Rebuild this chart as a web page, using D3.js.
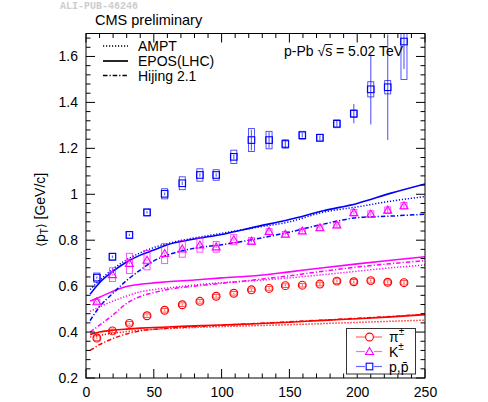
<!DOCTYPE html>
<html>
<head>
<meta charset="utf-8">
<script src="https://cdn.jsdelivr.net/npm/d3@7"></script>
<style>
  html, body { margin: 0; padding: 0; background: #fff; }
  svg { display: block; font-family: "Liberation Sans", Arial, Helvetica, sans-serif; }
</style>
</head>
<body>
<svg id="chart" width="488" height="402"></svg>
<script>
// Multiplicity bins (N_trk) and mean pT values per species
const mult = [8, 19.5, 32, 45, 58, 71, 84, 96, 109, 122, 135, 147, 159.5, 172.5, 185, 197.5, 210, 222.5, 234.5];

const piMean = [0.374, 0.405, 0.438, 0.471, 0.495, 0.519, 0.534, 0.556, 0.569, 0.584, 0.590, 0.602, 0.604, 0.609, 0.622, 0.619, 0.624, 0.617, 0.615];
const piStat = [0.003, 0.003, 0.003, 0.003, 0.003, 0.003, 0.003, 0.003, 0.003, 0.004, 0.004, 0.004, 0.004, 0.005, 0.005, 0.005, 0.005, 0.006, 0.006];
const piSys  = [0.010, 0.008, 0.008, 0.008, 0.008, 0.008, 0.008, 0.008, 0.008, 0.008, 0.008, 0.008, 0.008, 0.008, 0.010, 0.010, 0.010, 0.010, 0.010];

const kMean = [0.532, 0.650, 0.699, 0.713, 0.742, 0.762, 0.779, 0.771, 0.802, 0.796, 0.838, 0.826, 0.840, 0.854, 0.866, 0.920, 0.914, 0.931, 0.950];
const kStat = [0.004, 0.004, 0.004, 0.004, 0.004, 0.005, 0.005, 0.005, 0.005, 0.006, 0.006, 0.006, 0.006, 0.007, 0.007, 0.008, 0.008, 0.009, 0.010];
const kSys  = [0.010, 0.030, 0.044, 0.042, 0.044, 0.036, 0.031, 0.023, 0.022, 0.015, 0.012, 0.012, 0.012, 0.012, 0.012, 0.014, 0.014, 0.014, 0.014];

const pMean = [0.637, 0.728, 0.823, 0.921, 1.002, 1.048, 1.084, 1.084, 1.163, 1.236, 1.236, 1.219, 1.257, 1.246, 1.307, 1.351, 1.457, 1.466, 1.665];
const pStat = [0.005, 0.005, 0.005, 0.005, 0.006, 0.008, 0.008, 0.008, 0.010, 0.045, 0.035, 0.020, 0.010, 0.010, 0.012, 0.042, 0.153, 0.230, 0.120];
const pSys  = [0.020, 0.015, 0.015, 0.015, 0.022, 0.028, 0.027, 0.023, 0.029, 0.050, 0.038, 0.018, 0.017, 0.015, 0.017, 0.016, 0.033, 0.029, 0.165];

// Model predictions sampled on a common multiplicity grid
const modelX = [3, 10, 20, 30, 40, 50, 60, 80, 100, 125, 150, 175, 200, 225, 250];

const piAMPT   = [0.378, 0.386, 0.395, 0.402, 0.408, 0.412, 0.415, 0.420, 0.424, 0.428, 0.432, 0.437, 0.442, 0.447, 0.452];
const piEPOS   = [0.390, 0.400, 0.408, 0.413, 0.417, 0.420, 0.422, 0.427, 0.431, 0.436, 0.443, 0.451, 0.458, 0.466, 0.476];
const piHijing = [0.320, 0.345, 0.372, 0.392, 0.405, 0.412, 0.417, 0.424, 0.430, 0.437, 0.445, 0.452, 0.460, 0.468, 0.477];

const kAMPT    = [0.490, 0.510, 0.535, 0.557, 0.575, 0.585, 0.592, 0.605, 0.615, 0.624, 0.636, 0.650, 0.665, 0.680, 0.692];
const kEPOS    = [0.535, 0.552, 0.578, 0.598, 0.608, 0.614, 0.619, 0.627, 0.636, 0.645, 0.662, 0.680, 0.697, 0.713, 0.728];
const kHijing  = [0.400, 0.430, 0.475, 0.525, 0.555, 0.572, 0.585, 0.600, 0.612, 0.628, 0.645, 0.665, 0.683, 0.698, 0.711];

const pAMPT    = [0.585, 0.625, 0.675, 0.715, 0.745, 0.768, 0.785, 0.810, 0.830, 0.855, 0.880, 0.922, 0.945, 0.970, 0.990];
const pEPOS    = [0.565, 0.615, 0.665, 0.705, 0.735, 0.757, 0.780, 0.805, 0.825, 0.858, 0.890, 0.928, 0.960, 1.005, 1.045];
const pHijing  = [0.450, 0.510, 0.570, 0.625, 0.670, 0.710, 0.735, 0.765, 0.780, 0.805, 0.835, 0.870, 0.898, 0.905, 0.913];

const xTicks = [0, 50, 100, 150, 200, 250];
const yTicks = [0.2, 0.4, 0.6, 0.8, 1.0, 1.2, 1.4, 1.6];
const yTickLabels = ["0.2", "0.4", "0.6", "0.8", "1", "1.2", "1.4", "1.6"];

const modelNames = ["AMPT", "EPOS(LHC)", "Hijing 2.1"];

// ---- layout ----
const svg = d3.select("#chart");
const frame = { left: 86, right: 425, top: 33.5, bottom: 378 };

const x = d3.scaleLinear().domain([0, 250]).range([frame.left, frame.right]);
const y = d3.scaleLinear().domain([0.2, 1.7]).range([frame.bottom, frame.top]);

const RED = "#ff0000", MAG = "#ff00ff", BLUE = "#0000ff";
const dashes = { AMPT: "1.2,1.8", EPOS: null, Hijing: "4.5,2,1.2,2" };

const species = [
  { name: "pi", color: RED, mean: piMean, stat: piStat, sys: piSys, marker: "circle",
    models: { AMPT: piAMPT, EPOS: piEPOS, Hijing: piHijing } },
  { name: "K", color: MAG, mean: kMean, stat: kStat, sys: kSys, marker: "triangle",
    models: { AMPT: kAMPT, EPOS: kEPOS, Hijing: kHijing } },
  { name: "p", color: BLUE, mean: pMean, stat: pStat, sys: pSys, marker: "square",
    models: { AMPT: pAMPT, EPOS: pEPOS, Hijing: pHijing } }
];

// faint figure id at the very top
svg.append("text").attr("x", 60).attr("y", 9)
  .attr("font-family", "'Liberation Mono', 'DejaVu Sans Mono', monospace")
  .attr("font-size", 10).attr("fill", "#cdcdcd").attr("font-weight", "bold")
  .text("ALI-PUB-46246");

svg.append("defs").append("clipPath").attr("id", "plotClip")
  .append("rect").attr("x", frame.left).attr("y", frame.top)
  .attr("width", frame.right - frame.left).attr("height", frame.bottom - frame.top);

const plot = svg.append("g").attr("clip-path", "url(#plotClip)");

// ---- model curves ----
const line = d3.line().x(d => x(d[0])).y(d => y(d[1])).curve(d3.curveMonotoneX);
species.forEach(s => {
  ["AMPT", "Hijing", "EPOS"].forEach(m => {
    plot.append("path")
      .attr("d", line(modelX.map((v, i) => [v, s.models[m][i]])))
      .attr("fill", "none")
      .attr("stroke", s.color)
      .attr("stroke-width", m === "EPOS" ? 1.6 : 1.5)
      .attr("stroke-dasharray", dashes[m]);
  });
});

// ---- markers ----
function drawMarker(g, type, cx, cy, color) {
  if (type === "circle") {
    g.append("circle").attr("cx", cx).attr("cy", cy).attr("r", 3.9)
      .attr("fill", "none").attr("stroke", color).attr("stroke-width", 1.1);
  } else if (type === "triangle") {
    const h = 4;
    g.append("path")
      .attr("d", `M${cx},${cy - h}L${cx + h},${cy + h * 0.75}L${cx - h},${cy + h * 0.75}Z`)
      .attr("fill", "none").attr("stroke", color).attr("stroke-width", 1.1);
  } else {
    g.append("rect").attr("x", cx - 3.3).attr("y", cy - 3.3).attr("width", 6.6).attr("height", 6.6)
      .attr("fill", "none").attr("stroke", color).attr("stroke-width", 1.1);
  }
}

const boxHalf = 3;
species.forEach(s => {
  const g = plot.append("g");
  s.mean.forEach((v, i) => {
    const cx = x(mult[i]), cy = y(v);
    // systematic box
    g.append("rect")
      .attr("x", cx - boxHalf).attr("width", boxHalf * 2)
      .attr("y", y(v + s.sys[i])).attr("height", y(v - s.sys[i]) - y(v + s.sys[i]))
      .attr("fill", "none").attr("stroke", s.color).attr("stroke-width", 0.9).attr("stroke-opacity", 0.75);
    // statistical error bar
    g.append("line")
      .attr("x1", cx).attr("x2", cx)
      .attr("y1", y(v + s.stat[i])).attr("y2", y(v - s.stat[i]))
      .attr("stroke", s.color).attr("stroke-width", 1.2).attr("stroke-opacity", 0.6);
    drawMarker(g, s.marker, cx, cy, s.color);
  });
});

// ---- frame and ticks (ROOT style, inward on all sides) ----
const axes = svg.append("g").attr("stroke", "#000").attr("stroke-width", 1);
axes.append("rect").attr("x", frame.left).attr("y", frame.top)
  .attr("width", frame.right - frame.left).attr("height", frame.bottom - frame.top)
  .attr("fill", "none");

const xMinor = d3.range(0, 251, 10);
xMinor.forEach(v => {
  const major = v % 50 === 0;
  const len = major ? 9 : 4.5;
  axes.append("line").attr("x1", x(v)).attr("x2", x(v)).attr("y1", frame.bottom).attr("y2", frame.bottom - len);
  axes.append("line").attr("x1", x(v)).attr("x2", x(v)).attr("y1", frame.top).attr("y2", frame.top + len);
});
const yMinor = d3.range(0, 38).map(i => 0.2 + i * 0.04).filter(v => v <= 1.7001);
yMinor.forEach((v, i) => {
  const major = i % 5 === 0;
  const len = major ? 9 : 4.5;
  axes.append("line").attr("y1", y(v)).attr("y2", y(v)).attr("x1", frame.left).attr("x2", frame.left + len);
  axes.append("line").attr("y1", y(v)).attr("y2", y(v)).attr("x1", frame.right).attr("x2", frame.right - len);
});

// tick labels via d3 axes (lines hidden, labels kept)
const xAxis = svg.append("g").attr("transform", `translate(0,${frame.bottom})`)
  .call(d3.axisBottom(x).tickValues(xTicks).tickSize(0).tickPadding(9).tickFormat(d3.format("d")));
const yAxis = svg.append("g").attr("transform", `translate(${frame.left},0)`)
  .call(d3.axisLeft(y).tickValues(yTicks).tickSize(0).tickPadding(8).tickFormat((d, i) => yTickLabels[i]));
[xAxis, yAxis].forEach(a => {
  a.select(".domain").remove();
  a.selectAll("text").attr("font-size", 14).attr("fill", "#000")
    .attr("font-family", "'Liberation Sans', Arial, sans-serif");
});

// y axis title
const yTitle = svg.append("text")
  .attr("transform", `translate(45,${(frame.top + frame.bottom) / 2 + 4}) rotate(-90)`)
  .attr("text-anchor", "middle").attr("font-size", 14).attr("fill", "#000");
yTitle.append("tspan").attr("font-family", "'DejaVu Sans', sans-serif").attr("font-size", 12).text("\u27E8");
yTitle.append("tspan").text("p");
yTitle.append("tspan").attr("font-size", 10).attr("dy", 3).text("T");
yTitle.append("tspan").attr("dy", -3).attr("font-family", "'DejaVu Sans', sans-serif").attr("font-size", 12).text("\u27E9");
yTitle.append("tspan").text(" [GeV/c]");

// header texts
svg.append("text").attr("x", 95).attr("y", 25).attr("font-size", 14.5).attr("fill", "#000")
  .text("CMS preliminary");

const energy = svg.append("text").attr("x", 284).attr("y", 56).attr("font-size", 14).attr("fill", "#000");
energy.append("tspan").text("p-Pb ");
energy.append("tspan").text("\u221As");
energy.append("tspan").text(" = 5.02 TeV");
{
  const node = energy.node();
  const start = node.getSubStringLength(0, 6);
  const w = node.getSubStringLength(6, 1);
  svg.append("line")
    .attr("x1", 284 + start - 0.5).attr("x2", 284 + start + w + 0.5)
    .attr("y1", 44.5).attr("y2", 44.5).attr("stroke", "#000").attr("stroke-width", 0.9);
}

// model legend (top-left)
const modelLegend = svg.append("g");
[["AMPT", 46], ["EPOS", 61], ["Hijing", 75.5]].forEach(([m, ly], i) => {
  modelLegend.append("line").attr("x1", 103).attr("x2", 128).attr("y1", ly).attr("y2", ly)
    .attr("stroke", "#000").attr("stroke-width", m === "EPOS" ? 1.7 : 1.4)
    .attr("stroke-dasharray", dashes[m]);
  modelLegend.append("text").attr("x", 138).attr("y", ly + 5).attr("font-size", 14).attr("fill", "#000")
    .text(modelNames[i]);
});

// species legend (bottom-right)
const legend = svg.append("g");
legend.append("rect").attr("x", 346.5).attr("y", 328.5).attr("width", 69).attr("height", 45.5)
  .attr("fill", "#fff").attr("stroke", "#333").attr("stroke-width", 1);
const legendRows = [
  { s: species[0], y: 337, label: "\u03C0", sup: "\u00B1" },
  { s: species[1], y: 351.5, label: "K", sup: "\u00B1" },
  { s: species[2], y: 366.5, label: "p,p\u0304", sup: null }
];
legendRows.forEach(r => {
  legend.append("line").attr("x1", 356).attr("x2", 382).attr("y1", r.y).attr("y2", r.y)
    .attr("stroke", r.s.color).attr("stroke-width", 1.2).attr("stroke-opacity", 0.6);
  const g = legend.append("g");
  g.append("rect").attr("x", 365).attr("y", r.y - 4.5).attr("width", 9).attr("height", 9).attr("fill", "#fff").attr("stroke", "none");
  drawMarker(g, r.s.marker, 369.5, r.y, r.s.color);
  const t = legend.append("text").attr("x", 389).attr("y", r.y + 5).attr("font-size", 14).attr("fill", "#000");
  t.append("tspan").text(r.label);
  if (r.sup) t.append("tspan").attr("font-size", 10).attr("dy", -7).text(r.sup);
});
</script>
</body>
</html>
